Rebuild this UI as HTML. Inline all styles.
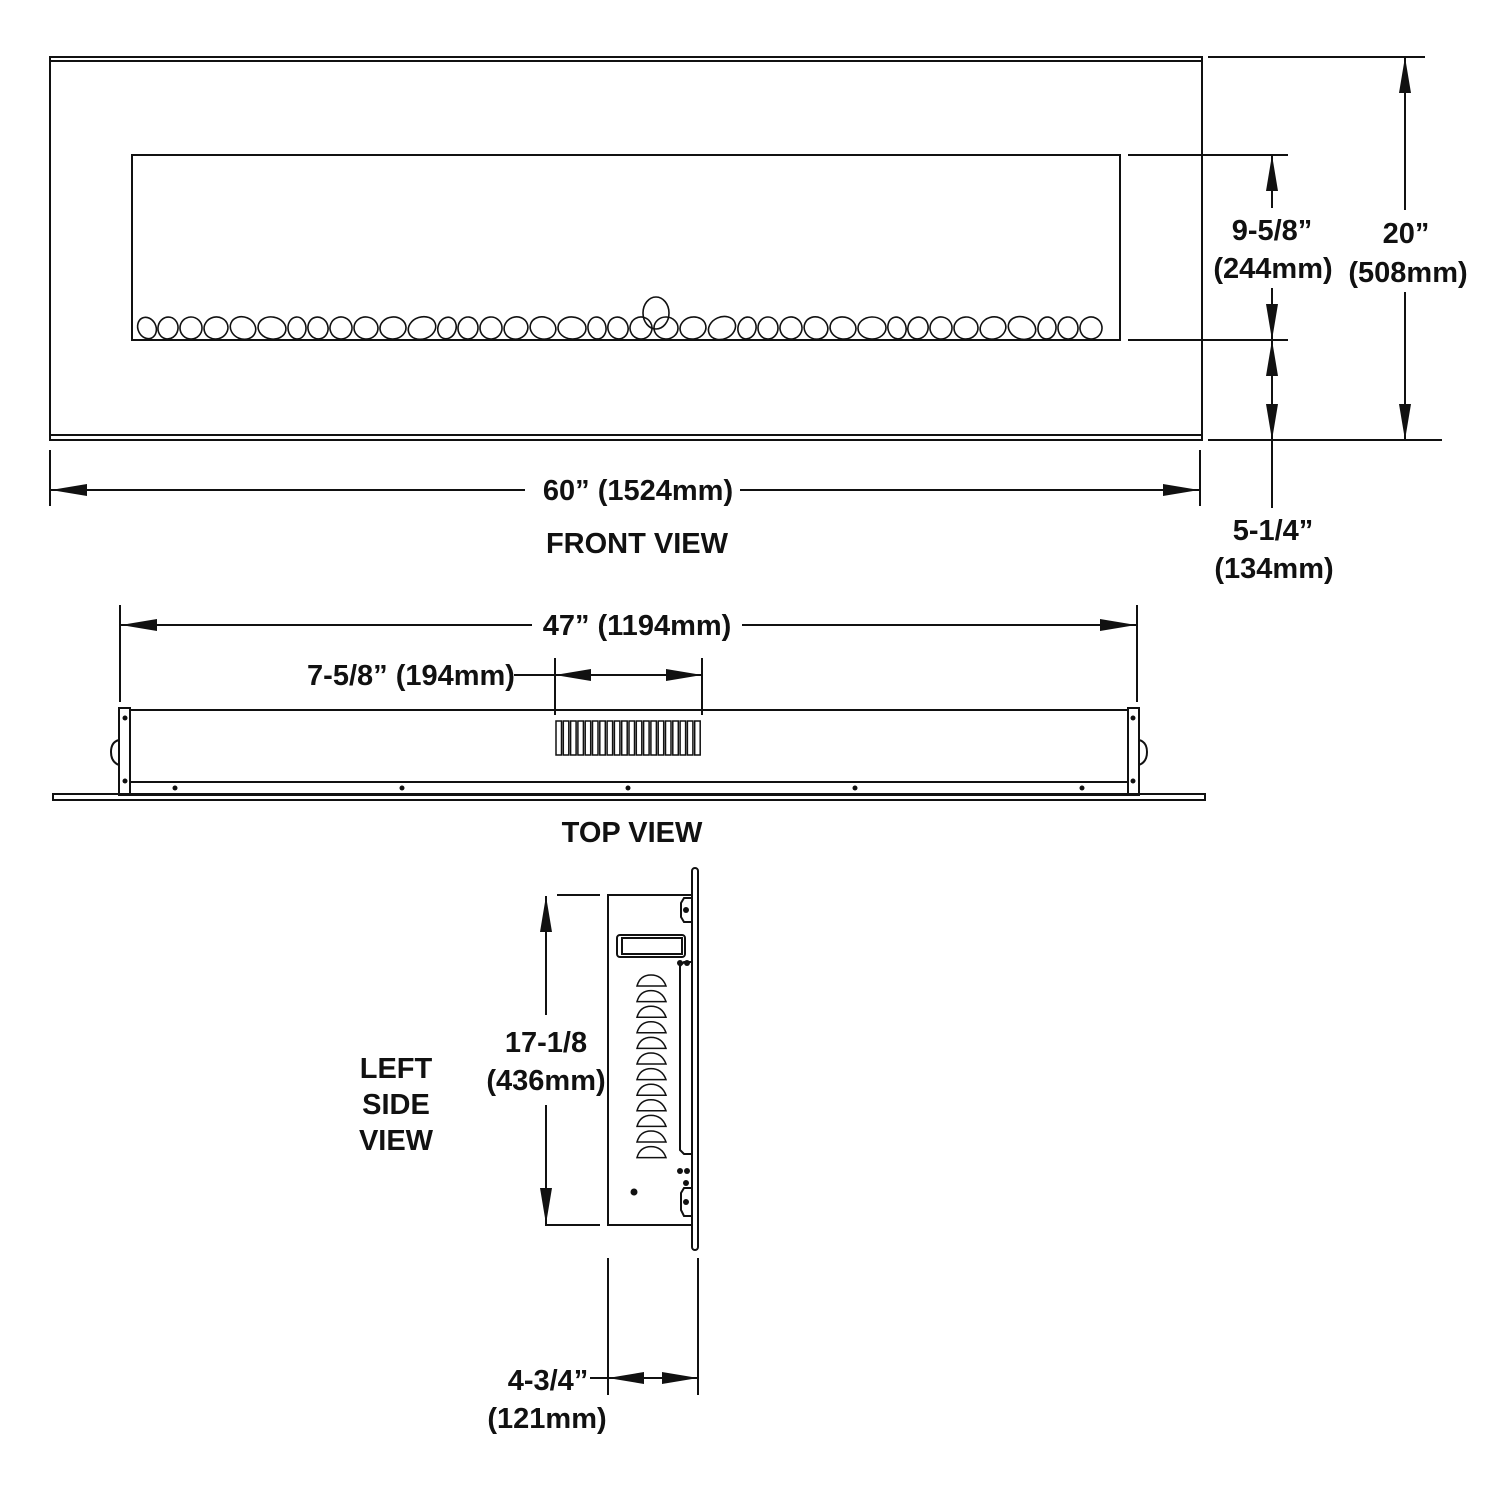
<!DOCTYPE html>
<html><head><meta charset="utf-8"><style>
html,body{margin:0;padding:0;background:#fff}
svg{display:block}
text{font-family:"Liberation Sans Narrow","Liberation Sans",sans-serif;font-weight:bold;font-size:29px;fill:#111;text-anchor:middle}
</style></head><body>
<svg width="1500" height="1500" viewBox="0 0 1500 1500" xmlns="http://www.w3.org/2000/svg">
<defs>
<marker id="a" viewBox="0 0 36 12" refX="36" refY="6" markerWidth="36" markerHeight="12" markerUnits="userSpaceOnUse" orient="auto-start-reverse"><path d="M0,0 L36,6 L0,12 Z" fill="#111"/></marker>
</defs>
<g stroke="#111" stroke-width="2" fill="none">
<!-- FRONT VIEW -->
<rect x="50" y="57" width="1152" height="383"/>
<line x1="50" y1="61" x2="1202" y2="61"/>
<line x1="50" y1="435" x2="1202" y2="435"/>
<rect x="132" y="155" width="988" height="185"/>
<g id="stones" stroke-width="1.6"></g>
<!-- right dims -->
<line x1="1128" y1="155" x2="1288" y2="155"/>
<line x1="1128" y1="340" x2="1288" y2="340"/>
<line x1="1208" y1="57" x2="1425" y2="57"/>
<line x1="1208" y1="440" x2="1442" y2="440"/>
<line x1="1272" y1="208" x2="1272" y2="155" marker-end="url(#a)"/>
<line x1="1272" y1="288" x2="1272" y2="340" marker-end="url(#a)"/>
<line x1="1272" y1="340" x2="1272" y2="440" marker-start="url(#a)" marker-end="url(#a)"/>
<line x1="1272" y1="440" x2="1272" y2="508"/>
<line x1="1405" y1="210" x2="1405" y2="57" marker-end="url(#a)"/>
<line x1="1405" y1="292" x2="1405" y2="440" marker-end="url(#a)"/>
<!-- 60 dim -->
<line x1="50" y1="450" x2="50" y2="506"/>
<line x1="1200" y1="450" x2="1200" y2="506"/>
<line x1="525" y1="490" x2="51" y2="490" marker-end="url(#a)"/>
<line x1="740" y1="490" x2="1199" y2="490" marker-end="url(#a)"/>
<!-- TOP VIEW dims -->
<line x1="120" y1="605" x2="120" y2="702"/>
<line x1="1137" y1="605" x2="1137" y2="702"/>
<line x1="532" y1="625" x2="121" y2="625" marker-end="url(#a)"/>
<line x1="742" y1="625" x2="1136" y2="625" marker-end="url(#a)"/>
<line x1="555" y1="658" x2="555" y2="715"/>
<line x1="702" y1="658" x2="702" y2="715"/>
<line x1="555" y1="675" x2="702" y2="675" marker-start="url(#a)" marker-end="url(#a)"/>
<line x1="514" y1="675" x2="555" y2="675"/>
<!-- top view body -->
<rect x="130" y="710" width="998" height="85"/>
<line x1="130" y1="782" x2="1128" y2="782"/>
<rect x="119" y="708" width="11" height="87"/>
<rect x="1128" y="708" width="11" height="87"/>
<path d="M119,740 Q111,742 111,752 Q111,762 119,765"/>
<path d="M1139,740 Q1147,742 1147,752 Q1147,762 1139,765"/>
<rect x="53" y="794" width="1152" height="6"/>
<g id="grille" stroke-width="1.5"></g>
<!-- SIDE VIEW -->
<rect x="608" y="895" width="84" height="330"/>
<rect x="692" y="868" width="6" height="382" rx="3"/>
<rect x="617" y="935" width="68" height="22" rx="3"/>
<rect x="622" y="938" width="60" height="16"/>
<path d="M692,898 L684,898 L681,903 L681,917 L684,922 L692,922"/>
<path d="M692,962 L684,962 L680,966 L680,1150 L684,1154 L692,1154"/>
<path d="M692,1188 L684,1188 L681,1193 L681,1210 L684,1216 L692,1216"/>
<g id="slots" stroke-width="1.5"></g>
<!-- side dims -->
<line x1="557" y1="895" x2="600" y2="895"/>
<line x1="545" y1="1225" x2="600" y2="1225"/>
<line x1="546" y1="1015" x2="546" y2="896" marker-end="url(#a)"/>
<line x1="546" y1="1105" x2="546" y2="1224" marker-end="url(#a)"/>
<line x1="608" y1="1258" x2="608" y2="1395"/>
<line x1="698" y1="1258" x2="698" y2="1395"/>
<line x1="608" y1="1378" x2="698" y2="1378" marker-start="url(#a)" marker-end="url(#a)"/>
<line x1="590" y1="1378" x2="608" y2="1378"/>
</g>
<g fill="#111">
<circle cx="175" cy="788" r="2.5"/><circle cx="402" cy="788" r="2.5"/><circle cx="628" cy="788" r="2.5"/><circle cx="855" cy="788" r="2.5"/><circle cx="1082" cy="788" r="2.5"/>
<circle cx="125" cy="718" r="2.5"/><circle cx="125" cy="781" r="2.5"/><circle cx="1133" cy="718" r="2.5"/><circle cx="1133" cy="781" r="2.5"/>
<circle cx="686" cy="910" r="3"/><circle cx="680" cy="963" r="3"/><circle cx="687" cy="963" r="3"/>
<circle cx="680" cy="1171" r="3"/><circle cx="687" cy="1171" r="3"/><circle cx="686" cy="1183" r="3"/><circle cx="686" cy="1202" r="3"/>
<circle cx="634" cy="1192" r="3.5"/>
</g>
<text x="1272" y="240">9-5/8”</text>
<text x="1273" y="278">(244mm)</text>
<text x="1406" y="243">20”</text>
<text x="1408" y="282">(508mm)</text>
<text x="1273" y="540">5-1/4”</text>
<text x="1274" y="578">(134mm)</text>
<text x="638" y="500">60” (1524mm)</text>
<text x="637" y="553">FRONT VIEW</text>
<text x="637" y="635">47” (1194mm)</text>
<text x="411" y="685">7-5/8” (194mm)</text>
<text x="632" y="842">TOP VIEW</text>
<text x="546" y="1052">17-1/8</text>
<text x="546" y="1090">(436mm)</text>
<text x="396" y="1078">LEFT</text>
<text x="396" y="1114">SIDE</text>
<text x="396" y="1150">VIEW</text>
<text x="548" y="1390">4-3/4”</text>
<text x="547" y="1428">(121mm)</text>
</svg>
<script>
var NS="http://www.w3.org/2000/svg";
function mk(p,t,a){var e=document.createElementNS(NS,t);for(var k in a)e.setAttribute(k,a[k]);document.getElementById(p).appendChild(e);}
var x=138,i=0;
while(x<1110){var rx=9+((i*7)%6),ry=11+((i*5)%5);if(x+rx*2>1118)break;
mk("stones","ellipse",{cx:x+rx,cy:339-ry,rx:rx,ry:ry,transform:"rotate("+(((i*37)%50)-25)+" "+(x+rx)+" "+(339-ry)+")"});x+=rx*2+2;i++;}
mk("stones","ellipse",{cx:656,cy:313,rx:13,ry:16});
for(var g=0;g<20;g++){mk("grille","rect",{x:556+g*7.3,y:721,width:5.5,height:34});}
for(var s=0;s<12;s++){var y=975+s*15.6;mk("slots","path",{d:"M637,"+(y+11)+" Q640,"+y+" 651,"+y+" Q662,"+y+" 666,"+(y+11)+" Z"});}
</script>
</body></html>
